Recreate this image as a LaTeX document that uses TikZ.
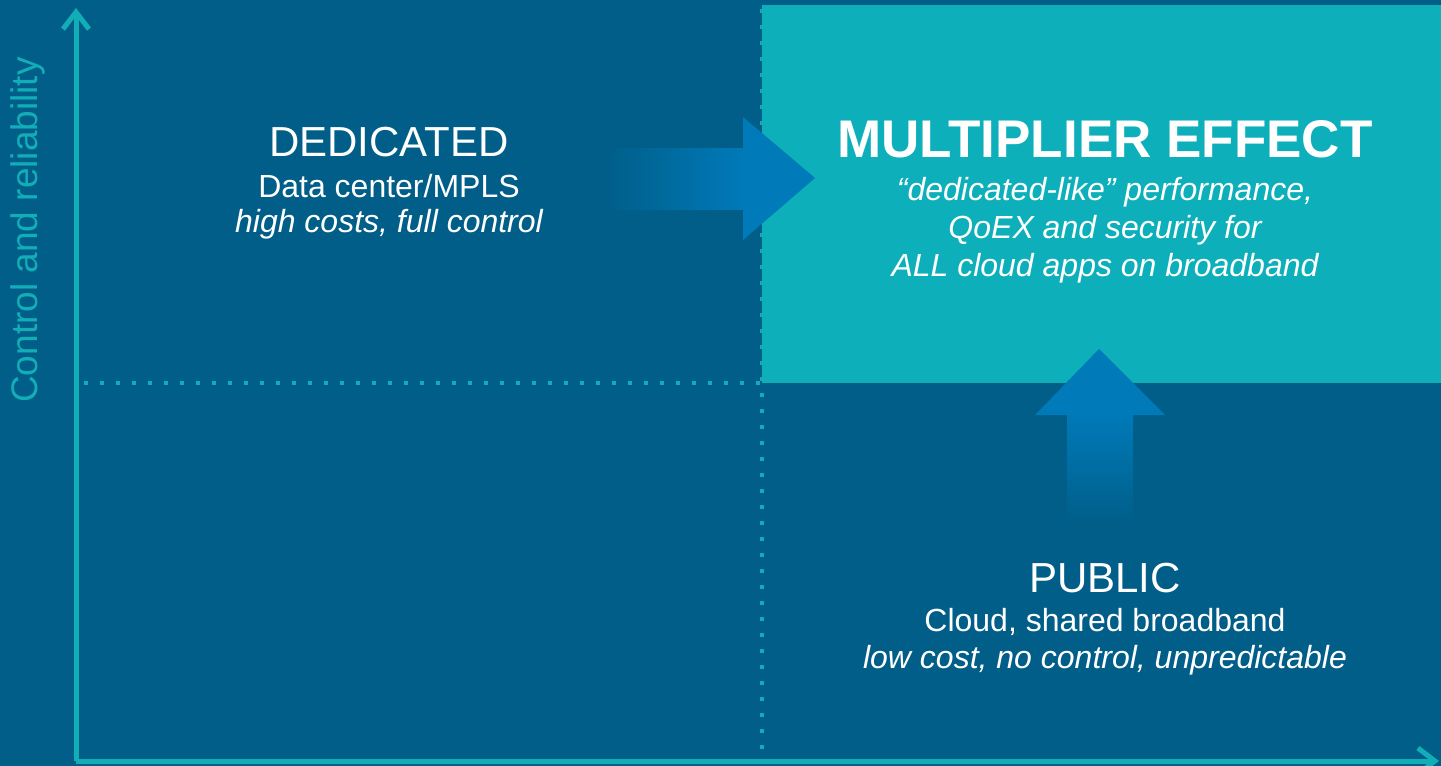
\documentclass[tikz,border=0pt]{standalone}
\usepackage{fontspec}
\setmainfont{Liberation Sans}
\usetikzlibrary{arrows.meta}
\definecolor{bgblue}{HTML}{005E88}
\definecolor{tealbox}{HTML}{0DB0BA}
\definecolor{axisteal}{HTML}{12AEB8}
\definecolor{arrblue}{HTML}{007AB9}
\tikzset{
  txt/.style={text=white, inner sep=0pt, anchor=base},
  big/.style={txt, font=\fontsize{42}{48}\selectfont},
  mid/.style={txt, font=\fontsize{32}{37}\selectfont},
  midit/.style={txt, font=\fontsize{32}{37}\selectfont\itshape},
  axisline/.style={draw=axisteal, line width=5pt},
  dotline/.style={draw=axisteal, line width=4pt, dash pattern=on 4pt off 12pt},
}
\begin{document}
\begin{tikzpicture}[x=1pt,y=-1pt]
\useasboundingbox (0,0) rectangle (1441,766);
\fill[bgblue] (0,0) rectangle (1441,766);
\fill[tealbox] (762,5) rectangle (1441,383);
% dotted quadrant lines
\draw[dotline] (84,383) -- (760,383);
\draw[dotline] (762,9) -- (762,760);
% right arrow
\shade[left color=bgblue, right color=arrblue, shading angle=90] (603,148) rectangle (744,209);
\fill[arrblue] (743,117) -- (815,178) -- (743,240) -- cycle;
% up arrow
\shade[bottom color=bgblue, top color=arrblue] (1067,525) rectangle (1133,414);
\fill[arrblue] (1035,415) -- (1099,349) -- (1165,415) -- cycle;
% axes
\coordinate (origin) at (76,761);
\coordinate (ytip) at (76,8);
\coordinate (xtip) at (1439,761);
\draw[axisline, -{Straight Barb[length=17pt,width=26pt,line width=5pt]}] (origin) -- (ytip);
\draw[axisline, -{Straight Barb[length=17pt,width=26pt,line width=5pt]}] (origin) -- (xtip);
\node[rotate=90, text=axisteal, inner sep=0pt, font=\fontsize{37}{42}\selectfont] (ylab) at (28,230) {Control and reliability};
% texts
\node[big] (ded) at (389,156) {DEDICATED};
\node[mid] (ded2) at (389,197) {Data center/MPLS};
\node[midit] (ded3) at (389,232) {high costs, full control};
\node[txt, font=\fontsize{53}{60}\selectfont\bfseries] (mul) at (1105,157) {MULTIPLIER EFFECT};
\node[midit] (mul2) at (1105,200) {“dedicated-like” performance,};
\node[midit] (mul3) at (1105,238) {QoEX and security for};
\node[midit] (mul4) at (1105,276) {ALL cloud apps on broadband};
\node[big] (pub) at (1105,592) {PUBLIC};
\node[mid] (pub2) at (1105,631) {Cloud, shared broadband};
\node[midit] (pub3) at (1105,668) {low cost, no control, unpredictable};
\end{tikzpicture}
\end{document}
